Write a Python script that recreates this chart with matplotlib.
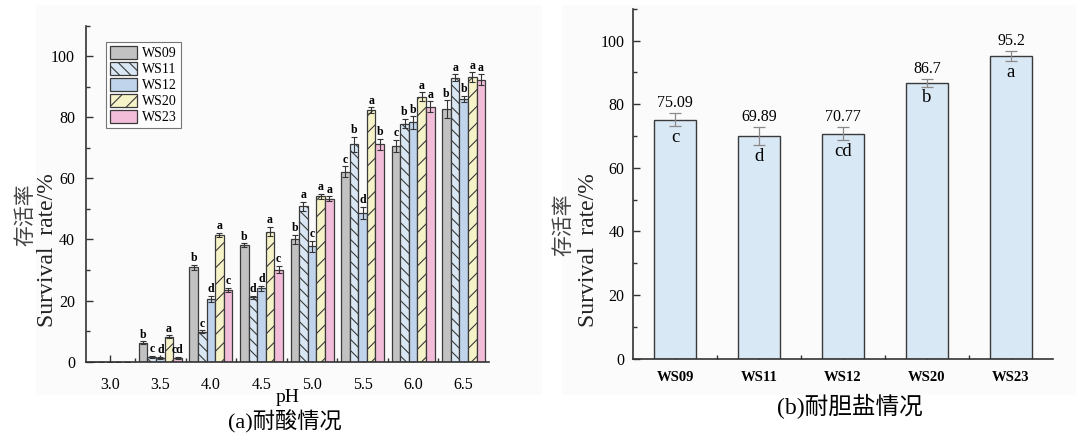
import numpy as np
import matplotlib
matplotlib.use("Agg")
import matplotlib.pyplot as plt
from matplotlib.patches import Rectangle
from matplotlib.ticker import MultipleLocator

plt.rcParams['font.family'] = ['Liberation Serif', 'Noto Sans CJK SC']
plt.rcParams['hatch.linewidth'] = 0.8
plt.rcParams['hatch.color'] = '#303030'

# -------- DATA --------
ph_labels = ['3.0', '3.5', '4.0', '4.5', '5.0', '5.5', '6.0', '6.5']
strains = ['WS09', 'WS11', 'WS12', 'WS20', 'WS23']

# acid tolerance, survival rate (%) per strain across pH
acid_ws09 = [0, 6.2, 30.9, 38.2, 40.1, 62.1, 70.6, 82.6]
acid_ws11 = [0, 1.6, 9.8, 21.1, 50.8, 71.1, 77.9, 93.0]
acid_ws12 = [0, 1.3, 20.5, 24.1, 37.8, 48.6, 78.3, 86.1]
acid_ws20 = [0, 8.2, 41.5, 42.6, 54.1, 82.3, 86.7, 93.2]
acid_ws23 = [0, 1.3, 23.4, 30.1, 53.3, 71.1, 83.4, 92.3]

acid_err_ws09 = [0, 0.5, 0.8, 0.6, 1.5, 1.8, 2.0, 3.0]
acid_err_ws11 = [0, 0.3, 0.5, 0.5, 1.5, 2.5, 1.5, 1.0]
acid_err_ws12 = [0, 0.3, 1.0, 0.8, 1.8, 2.0, 2.0, 1.0]
acid_err_ws20 = [0, 0.5, 0.6, 1.5, 0.8, 1.0, 1.5, 1.5]
acid_err_ws23 = [0, 0.3, 0.7, 1.2, 0.8, 1.8, 1.8, 1.8]

acid_sig_ws09 = ['', 'b', 'b', 'b', 'b', 'c', 'c', 'b']
acid_sig_ws11 = ['', 'c', 'c', 'd', 'a', 'b', 'b', 'a']
acid_sig_ws12 = ['', 'd', 'd', 'd', 'c', 'd', 'b', 'b']
acid_sig_ws20 = ['', 'a', 'a', 'a', 'a', 'a', 'a', 'a']
acid_sig_ws23 = ['', 'cd', 'c', 'c', 'a', 'b', 'a', 'a']

# bile salt tolerance
bile_values = [75.09, 69.89, 70.77, 86.7, 95.2]
bile_err = [2.0, 2.8, 2.0, 1.2, 1.6]
bile_sig = ['c', 'd', 'cd', 'b', 'a']

# -------- STYLE --------
faces = ['#c2c2c2', '#d8e7f3', '#c0d4ec', '#f7f3c8', '#f2bdd9']
hatches = [None, '\\\\\\', None, '//', None]
edge = '#3a3a3a'

W, H = 1076, 437
fig = plt.figure(figsize=(W / 100, H / 100), dpi=100)

def px_axes(x0, x1, y_top, y_bot):
    return fig.add_axes([x0 / W, 1 - y_bot / H, (x1 - x0) / W, (y_bot - y_top) / H])

# faint panel backgrounds
fig.patches.append(Rectangle((36 / W, 1 - 394 / H), 505 / W, 389 / H,
                             transform=fig.transFigure, color='#fbfbfb', zorder=-10))
fig.patches.append(Rectangle((562 / W, 1 - 394 / H), 514 / W, 389 / H,
                             transform=fig.transFigure, color='#fbfbfb', zorder=-10))

ax1 = px_axes(86, 489, 25.6, 361.7)
ax2 = px_axes(633, 1053, 8.7, 358.7)
for ax in (ax1, ax2):
    ax.set_facecolor('none')
    for s in ('top', 'right'):
        ax.spines[s].set_visible(False)
    for s in ('left', 'bottom'):
        ax.spines[s].set_color('#333333')
        ax.spines[s].set_linewidth(1.2)
    ax.tick_params(which='both', direction='in', color='#333333', width=1.0)
    ax.tick_params(which='major', length=5)
    ax.tick_params(which='minor', length=3)
    ax.set_ylim(0, 110)
    ax.yaxis.set_major_locator(MultipleLocator(20))
    ax.yaxis.set_minor_locator(MultipleLocator(10))
    ax.tick_params(axis='y', labelsize=11.5, pad=6)
ax1.tick_params(axis='y', pad=8)

# -------- (a) acid tolerance --------
series = [acid_ws09, acid_ws11, acid_ws12, acid_ws20, acid_ws23]
errs = [acid_err_ws09, acid_err_ws11, acid_err_ws12, acid_err_ws20, acid_err_ws23]
sigs = [acid_sig_ws09, acid_sig_ws11, acid_sig_ws12, acid_sig_ws20, acid_sig_ws23]
x = np.arange(len(ph_labels))
w = 0.17
for i, (vals, er, sg) in enumerate(zip(series, errs, sigs)):
    pos = x + (i - 2) * w
    ax1.bar(pos, vals, w, color=faces[i], edgecolor=edge, linewidth=0.9,
            hatch=hatches[i], label=strains[i], zorder=2)
    ax1.errorbar(pos, vals, yerr=er, fmt='none', ecolor='#333333',
                 elinewidth=0.8, capsize=2.5, capthick=0.8, zorder=3)
    for p, v, e, t in zip(pos, vals, er, sg):
        if t:
            ax1.text(p, v + e + 0.2, t, ha='center', va='bottom',
                     fontsize=8.5, fontweight='bold', zorder=4)

ax1.set_xlim(-0.47, 7.5)
ax1.set_xticks(x)
ax1.set_xticklabels(ph_labels)
ax1.set_xticks(x[:-1] + 0.5, minor=True)
ax1.tick_params(axis='x', labelsize=11.5, pad=11)
ax1.set_xlabel('pH', fontsize=14, labelpad=-3)

leg = ax1.legend(loc='upper left', bbox_to_anchor=(0.05, 0.95), fontsize=10,
                 frameon=True, fancybox=False, edgecolor='#555555',
                 handlelength=2.0, handleheight=1.1, borderpad=0.25,
                 labelspacing=0.12, handletextpad=0.35, borderaxespad=0)
leg.get_frame().set_linewidth(0.8)

# -------- (b) bile salt tolerance --------
xb = np.arange(len(strains))
ax2.bar(xb, bile_values, 0.5, color='#d9e8f5', edgecolor=edge, linewidth=1.0, zorder=2)
ax2.errorbar(xb, bile_values, yerr=bile_err, fmt='none', ecolor='#8a8a8a',
             elinewidth=0.9, capsize=4, capthick=0.9, zorder=3)
for xi, v, e, t in zip(xb, bile_values, bile_err, bile_sig):
    ax2.annotate(f'{v:g}', (xi, v + e), xytext=(0, 1.5), textcoords='offset points',
                 ha='center', va='bottom', fontsize=11.5)
    ax2.annotate(t, (xi, v - e), xytext=(0, -2), textcoords='offset points',
                 ha='center', va='top', fontsize=13.5)

ax2.set_xlim(-0.5, 4.5)
ax2.set_xticks(xb)
ax2.set_xticklabels(strains, fontweight='bold')
ax2.set_xticks(xb[:-1] + 0.5, minor=True)
ax2.tick_params(axis='x', labelsize=10.5, pad=9)

# -------- axis titles and captions --------
for xc_cn, yc_cn, xc_en, yc_en in ((25, 215, 48, 250), (563, 225, 588, 250)):
    fig.text(xc_cn / W, 1 - yc_cn / H, '存活率', rotation=90, ha='center',
             va='center', fontsize=15, color='#444444', family='Noto Sans CJK SC')
    fig.text(xc_en / W, 1 - yc_en / H, 'Survival  rate/%', rotation=90,
             ha='center', va='center', fontsize=17, color='#222222')

fig.text(285 / W, 1 - 422 / H, '(a)耐酸情况', ha='center', va='center',
         fontsize=16, family=['Liberation Serif', 'Noto Sans CJK SC'])
fig.text(850 / W, 1 - 406 / H, '(b)耐胆盐情况', ha='center', va='center',
         fontsize=17, family=['Liberation Serif', 'Noto Sans CJK SC'])

fig.savefig('out.png', dpi=100, facecolor='white')
